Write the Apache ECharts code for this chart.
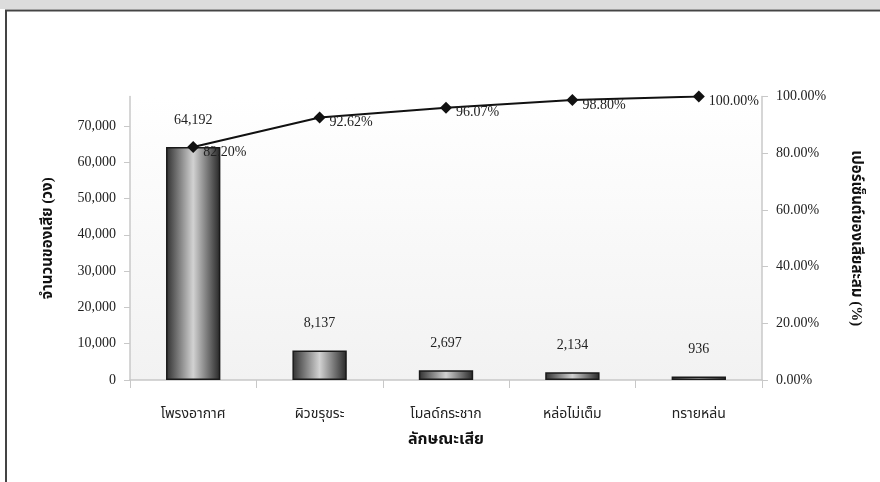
<!DOCTYPE html>
<html>
<head>
<meta charset="utf-8">
<script src="https://cdn.jsdelivr.net/npm/echarts@6/dist/echarts.min.js"></script>
<style>
  html, body { margin: 0; padding: 0; background: #ffffff; }
  #chart { width: 880px; height: 482px; }
</style>
</head>
<body>
<div id="chart"></div>
<script>
// Defect types and counts (Pareto chart)
const categories = ['โพรงอากาศ', 'ผิวขรุขระ', 'โมลด์กระชาก', 'หล่อไม่เต็ม', 'ทรายหล่น'];
const defectCounts = [64192, 8137, 2697, 2134, 936];
const cumulativePercent = [82.20, 92.62, 96.07, 98.80, 100.00];
const leftTicks = [0, 10000, 20000, 30000, 40000, 50000, 60000, 70000];
const rightTicks = [0, 20, 40, 60, 80, 100];

const totalCount = defectCounts.reduce((a, b) => a + b, 0);
const serif = '"Liberation Serif", "Times New Roman", "Noto Sans Thai", "Noto Serif Thai", serif';

const chart = echarts.init(document.getElementById('chart'));
chart.setOption({
  backgroundColor: '#ffffff',
  animation: false,
  textStyle: { fontFamily: serif },
  graphic: [
    { type: 'rect', shape: { x: 0, y: 0, width: 880, height: 9 }, style: { fill: '#dcdcdc' }, silent: true },
    { type: 'polyline', shape: { points: [[6, 482], [6, 10.5], [880, 10.5]] },
      style: { stroke: '#444', lineWidth: 2, fill: null }, silent: true }
  ],
  grid: {
    left: 130, right: 118, top: 96.5, bottom: 102,
    show: true, borderWidth: 0,
    backgroundColor: new echarts.graphic.LinearGradient(0, 0, 0, 1, [
      { offset: 0, color: '#ffffff' },
      { offset: 1, color: '#f2f2f2' }
    ])
  },
  xAxis: {
    type: 'category',
    data: categories,
    name: 'ลักษณะเสีย',
    nameLocation: 'middle',
    nameGap: 52,
    nameTextStyle: { fontSize: 16, fontWeight: 'bold', color: '#111', fontFamily: serif },
    axisLine: { lineStyle: { color: '#c8c8c8', width: 1.5 } },
    axisTick: { show: true, alignWithLabel: false, length: 8, lineStyle: { color: '#c8c8c8' } },
    axisLabel: { margin: 27, fontSize: 14, color: '#222', fontFamily: serif }
  },
  yAxis: [
    {
      type: 'value',
      min: 0,
      max: totalCount,
      interval: 10000,
      name: 'จำนวนของเสีย (วง)',
      nameLocation: 'middle',
      nameRotate: 90,
      nameGap: 74,
      nameTextStyle: { fontSize: 15, fontWeight: 'bold', color: '#111', fontFamily: serif },
      axisLine: { show: true, lineStyle: { color: '#c8c8c8', width: 1.5 } },
      axisTick: { show: true, length: 6, lineStyle: { color: '#c8c8c8' } },
      splitLine: { show: false },
      axisLabel: {
        fontSize: 14, color: '#222', margin: 14, fontFamily: serif,
        showMaxLabel: false,
        formatter: v => leftTicks.includes(v) ? v.toLocaleString('en-US') : ''
      }
    },
    {
      type: 'value',
      min: 0,
      max: 100,
      interval: 20,
      name: 'เปอร์เซ็นต์ของเสียสะสม (%)',
      nameLocation: 'middle',
      nameRotate: -90,
      nameGap: 86,
      nameTextStyle: { fontSize: 15, fontWeight: 'bold', color: '#111', fontFamily: serif },
      axisLine: { show: true, lineStyle: { color: '#c8c8c8', width: 1.5 } },
      axisTick: { show: true, length: 6, lineStyle: { color: '#c8c8c8' } },
      splitLine: { show: false },
      axisLabel: {
        fontSize: 14, color: '#222', margin: 14, fontFamily: serif,
        formatter: v => rightTicks.includes(v) ? v.toFixed(2) + '%' : ''
      }
    }
  ],
  series: [
    {
      type: 'bar',
      yAxisIndex: 0,
      data: defectCounts,
      barWidth: '43%',
      itemStyle: {
        color: new echarts.graphic.LinearGradient(0, 0, 1, 0, [
          { offset: 0, color: '#303030' },
          { offset: 0.5, color: '#d2d2d2' },
          { offset: 1, color: '#262626' }
        ]),
        borderColor: '#1a1a1a',
        borderWidth: 1.5
      },
      label: {
        show: true,
        position: 'top',
        distance: 20,
        fontSize: 14,
        color: '#222',
        fontFamily: serif,
        formatter: p => p.value.toLocaleString('en-US')
      }
    },
    {
      type: 'line',
      yAxisIndex: 1,
      data: cumulativePercent,
      symbol: 'diamond',
      symbolSize: 12,
      lineStyle: { color: '#111', width: 2 },
      itemStyle: { color: '#111' },
      label: {
        show: true,
        position: 'right',
        distance: 4,
        offset: [0, 5],
        fontSize: 14,
        color: '#222',
        fontFamily: serif,
        formatter: p => p.value.toFixed(2) + '%'
      }
    }
  ]
});
</script>
</body>
</html>
